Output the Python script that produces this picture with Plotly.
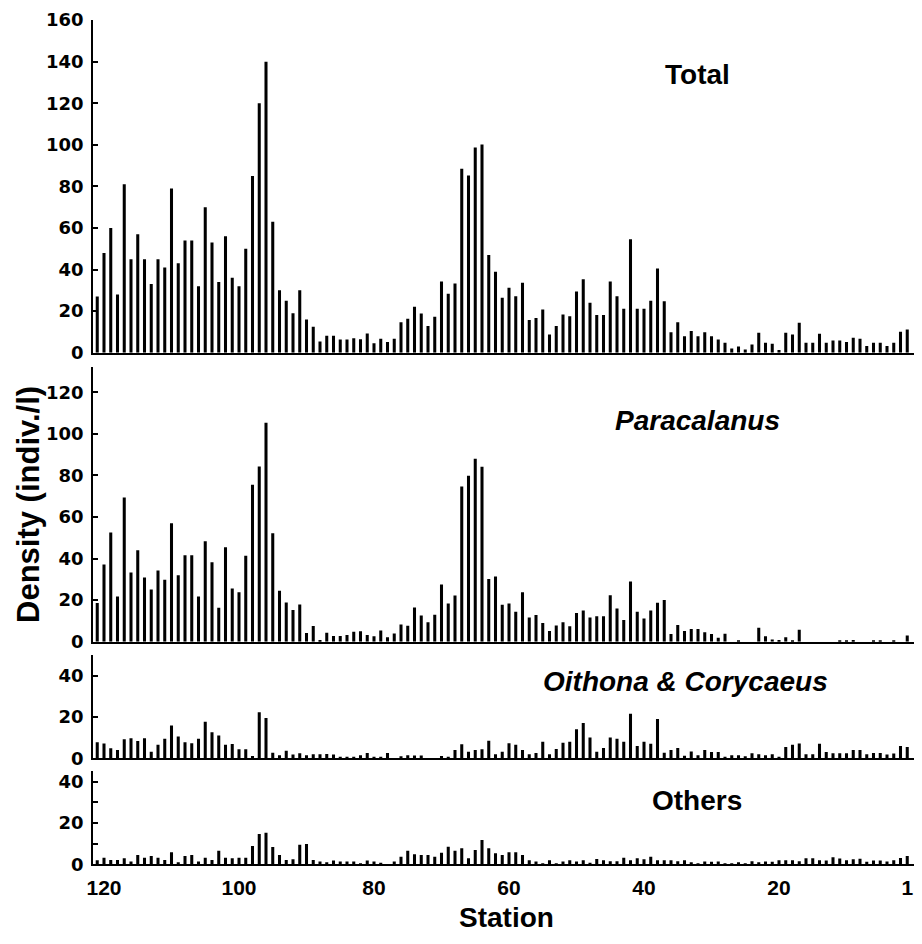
import plotly.graph_objects as go
from plotly.subplots import make_subplots

# Stations, left (121) to right (1)
stations = list(range(121, 0, -1))

total = [27, 48, 60, 28, 81, 45, 57, 45, 33, 45,
         41, 79, 43, 54, 54, 32, 70, 53, 34, 56,
         36, 32, 50, 85, 120, 140, 63, 30, 25, 19,
         30, 16, 12.5, 5.4, 8.2, 8.2, 6.4, 6.4, 7, 6.5,
         9.2, 4.5, 6.7, 5.1, 6.7, 14.7, 16.3, 22.1, 18.9, 12.8,
         17.3, 34.3, 28.4, 33.3, 88.5, 85.3, 98.7, 100.2, 47, 38.9,
         26.4, 31.3, 27.1, 33.7, 15.7, 16.7, 20.8, 8.7, 12.8, 18.4,
         17.5, 29.5, 35.3, 24, 18.1, 18.1, 34.3, 27.1, 21.2, 54.6,
         21.2, 21.2, 25, 40.5, 24.7, 9.8, 14.7, 7.9, 10.4, 7.9,
         9.8, 7.9, 6.3, 4.8, 2, 3, 1.5, 4, 9.6, 4.8,
         4.3, 1.3, 9.6, 8.8, 14.4, 4.8, 4.8, 9.1, 4.8, 5.9,
         5.9, 5.1, 7.2, 6.7, 3.2, 4.8, 4.8, 3.2, 4.8, 10.1,
         11.2]

paracalanus = [18.6, 37.1, 52.5, 21.8, 69.4, 33.3, 44, 30.9, 25.1, 34.2,
               29.8, 57, 32, 41.6, 41.6, 21.8, 48.3, 38.2, 16.3, 45.4,
               25.6, 23.8, 41.3, 75.5, 84.3, 105.3, 52.2, 24.5, 18.9, 15.2,
               17.9, 4.2, 7.5, 0.8, 4.3, 2.7, 2.7, 3.2, 4.8, 5,
               3.2, 2.6, 5.4, 2.1, 4, 8.3, 7.7, 16.5, 12.6, 9.3,
               13, 27.5, 18.4, 22.2, 74.6, 79.8, 88, 84.2, 30.2, 31.4,
               17.8, 18.4, 14.4, 23.8, 11.7, 12.8, 9, 5.1, 7.8, 9.4,
               7.4, 13.8, 15, 11.7, 12.2, 12.2, 22.4, 16, 10.4, 29,
               14.4, 11.2, 15, 18.7, 20, 3.7, 8, 5.1, 6.1, 6.1,
               4.5, 3.7, 1.9, 3.8, 0, 0.6, 0, 0, 6.7, 2.6,
               1.1, 0.8, 2.2, 0.3, 5.8, 0, 0, 0, 0, 0,
               0.6, 0.6, 0.8, 0, 0, 0.4, 0.4, 0, 0.5, 0,
               3]

oithona_corycaeus = [7.7, 7.1, 4.8, 4, 9.2, 9.7, 8.4, 9.7, 3.2, 6.6,
                     9.4, 15.8, 10.5, 7.7, 7.3, 9.5, 17.6, 12.6, 11, 6.5,
                     6.9, 4.4, 4.4, 1.1, 22.3, 19.5, 2.7, 1.5, 3.7, 1.8,
                     2.4, 1.5, 1.9, 1.9, 2.1, 1.8, 0.8, 0.8, 0.8, 1.5,
                     2.6, 0.5, 0.5, 2.6, 0, 1, 1.5, 1.3, 1.3, 0,
                     0, 1.1, 0.8, 4, 6.8, 3.2, 4, 4.4, 8.5, 1.9,
                     3.2, 7.3, 6.5, 4, 2, 2.6, 8, 2, 4.5, 7.5,
                     8, 14, 17, 10, 3.2, 5, 10, 9.4, 8, 21.5,
                     6, 8, 7, 19, 2.7, 4, 5, 1.2, 3.3, 1.5,
                     4, 3, 3, 0.5, 1.5, 1.5, 1, 2.5, 2, 1.5,
                     2, 0.5, 5.5, 6.5, 7.2, 2, 2, 7, 3, 2.5,
                     2.5, 2.5, 4, 4, 2, 2.6, 2.6, 1.8, 2.3, 6,
                     5.5]

others = [2, 3.2, 2.1, 2.1, 2.9, 1.3, 4.5, 3.2, 4, 3.2,
          2.1, 5.8, 1, 4, 4.5, 1.3, 3.2, 2.1, 6.5, 3.2,
          2.9, 3.2, 3.2, 8.9, 14.7, 15.3, 8.4, 4.5, 2.1, 2.4,
          9.4, 9.8, 2.1, 1.3, 1, 1.8, 1.3, 1.3, 1.3, 0.3,
          1.8, 1.3, 0.8, 0, 1.3, 3.7, 6.5, 4.8, 4.5, 4.5,
          3.7, 5.6, 8.5, 6.5, 7.7, 2.9, 6.9, 11.8, 7.7, 5.3,
          4.5, 5.8, 5.8, 4.5, 2, 1.3, 0.5, 2, 0.5, 1.3,
          2, 1.3, 2, 0.8, 2.6, 2, 1.5, 1.5, 3.2, 2,
          2.9, 2.5, 3.7, 2, 2, 2, 1.5, 2, 1, 0.5,
          1.3, 1.2, 1.4, 0.5, 0.5, 1, 0.5, 1.5, 1, 1.3,
          1.2, 2, 2, 2, 1.5, 2.9, 2.9, 2, 1.8, 3.4,
          2.8, 2, 2.4, 2.7, 1.2, 1.8, 1.8, 1.4, 2, 3,
          4]

series = [total, paracalanus, oithona_corycaeus, others]
panel_titles = ["Total", "<i>Paracalanus</i>", "<i>Oithona &amp; Corycaeus</i>", "Others"]
y_ranges = [[0, 160], [0, 132], [0, 50], [0, 45]]
y_tickvals = [[0, 20, 40, 60, 80, 100, 120, 140, 160],
              [0, 20, 40, 60, 80, 100, 120],
              [0, 20, 40],
              [0, 10, 20, 30, 40]]
y_ticktext = [[str(v) for v in y_tickvals[0]],
              [str(v) for v in y_tickvals[1]],
              ["0", "20", "40"],
              ["0", "", "20", "", "40"]]
x_tickvals = [120, 100, 80, 60, 40, 20, 1]
x_ticktext = ["120", "100", "80", "60", "40", "20", "1"]

# page body has an 8px margin; keep the figure inside the 922x944 viewport
OFF = 8
W, H = 922 - 2 * OFF, 944 - 2 * OFF
def px_x(p):
    return (p - OFF) / W
def px_y(p):
    return 1 - (p - OFF) / H

# page-pixel layout of panels: (bottom, top)
panel_px = [(352.7, 20.1), (641.7, 367.3), (758.3, 654.8), (864.3, 771.2)]
title_px = [(697, 75), (697, 420), (685, 681), (697, 800)]

fig = make_subplots(rows=4, cols=1, shared_xaxes=True)

for i, vals in enumerate(series):
    fig.add_trace(go.Bar(x=stations, y=vals, marker=dict(color="black", line=dict(width=0)),
                         showlegend=False, hoverinfo="x+y"), row=i + 1, col=1)

tick_font = dict(family="DejaVu Sans", size=18, color="black", weight="bold")
for i in range(4):
    b, t = panel_px[i]
    yname = "yaxis" if i == 0 else f"yaxis{i+1}"
    xname = "xaxis" if i == 0 else f"xaxis{i+1}"
    fig.layout[yname].update(domain=[px_y(b), px_y(t)], range=y_ranges[i], autorange=False,
                             tickvals=y_tickvals[i], ticktext=y_ticktext[i],
                             ticks="inside", ticklen=5, tickwidth=1.5, tickcolor="black",
                             showline=True, linecolor="black", linewidth=1.5,
                             showgrid=False, zeroline=False, tickfont=tick_font,
                             ticklabelstandoff=4, automargin=False,
                             ticklabeloverflow="allow")
    fig.layout[xname].update(domain=[px_x(93), 1], range=[121.63, 0.0], autorange=False,
                             showline=True, linecolor="black", linewidth=1.5,
                             showgrid=False, zeroline=False, ticks="",
                             tickvals=x_tickvals, ticktext=x_ticktext,
                             showticklabels=(i == 3), automargin=False,
                             ticklabeloverflow="allow",
                             tickfont=dict(family="Liberation Sans", size=21, color="black", weight="bold"),
                             ticklabelstandoff=4)
    tx, ty = title_px[i]
    fig.add_annotation(text=panel_titles[i], x=px_x(tx), y=px_y(ty), xref="paper", yref="paper",
                       showarrow=False, xanchor="center", yanchor="middle",
                       font=dict(family="Liberation Sans", size=28, color="black", weight="bold"))

fig.add_annotation(text="Density (indiv./l)", x=px_x(28), y=px_y(505), xref="paper", yref="paper",
                   showarrow=False, textangle=-90, xanchor="center", yanchor="middle",
                   font=dict(family="Liberation Sans", size=31, color="black", weight="bold"))
fig.add_annotation(text="Station", x=px_x(506), y=px_y(917), xref="paper", yref="paper",
                   showarrow=False, xanchor="center", yanchor="middle",
                   font=dict(family="Liberation Sans", size=28, color="black", weight="bold"))

fig.update_layout(width=W, height=H, margin=dict(l=0, r=0, t=0, b=0, autoexpand=False),
                  paper_bgcolor="white", plot_bgcolor="white",
                  bargap=0.55, showlegend=False)

fig.write_html("out.html")
